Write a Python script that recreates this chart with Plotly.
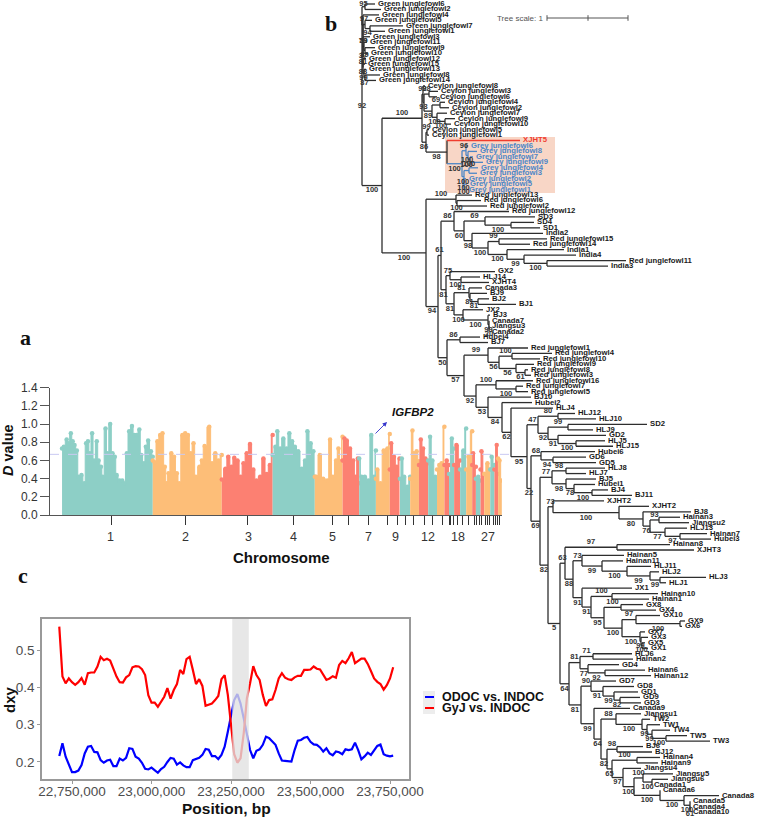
"""
Three-panel figure: D value Manhattan plot, dxy sliding windows, neighbour-joining tree.
"""

import plotly.graph_objects as go

TEAL = "#8DCFC6"
ORANGE = "#FDBE78"
RED = "#FC8072"
SANS = "Liberation Sans, Arial, sans-serif"
SERIF = "Liberation Serif, Times New Roman, serif"

# ---------------------------------------------------------------------------
# Panel a: envelope of the D values per chromosome (position in Mb, D value)
# ---------------------------------------------------------------------------

chr1_mb = [0, 4, 10, 14, 19, 23, 27, 32, 36, 42, 48, 52, 56, 60, 65, 69, 75, 79, 84, 88, 94, 98, 104, 109, 114,
           118, 124, 130, 134, 140, 145, 151, 156, 161, 167, 171, 177, 181, 186, 192, 196]
chr1_d = [.73, .75, .83, .79, .90, .81, .77, .71, .42, .44, .35, .79, .81, .68, .90, .60, .81, .60, .53, .42, .95,
          .68, 1.0, .68, .64, .44, .38, .38, .35, .68, .92, .98, .88, .88, .94, .66, .57, .75, .82, .70, .64]
chr2_mb = [196, 200, 206, 212, 217, 222, 226, 230, 236, 242, 248, 253, 260, 266, 272, 278, 284, 289, 297, 302,
           308, 318, 324, 331, 338, 345]
chr2_d = [.60, .58, .81, .88, .90, .53, .35, .46, .68, .64, .46, .35, .88, .90, .88, .68, .79, .42, .53, .60,
          .76, .97, .57, .68, .60, .66]
chr3_mb = [345, 353, 359, 366, 372, 379, 386, 392, 399, 406, 413, 420, 428, 435, 442, 449, 455]
chr3_d = [.39, .51, .64, .53, .63, .60, .42, .57, .68, .78, .50, .38, .42, .62, .45, .55, .88]
chr4_mb = [455, 461, 465, 471, 478, 485, 491, 497, 503, 510, 518, 525, 530, 537, 543, 546]
chr4_d = [.66, .75, .92, .73, .84, .73, .90, .81, .75, .70, .51, .60, .92, .79, .70, .42]
chr5_mb = [546, 549, 557, 564, 573, 579, 585, 592, 597, 602, 606]
chr5_d = [.42, .42, .66, .40, .38, .83, .42, .60, .73, .59, .86]
chr6_mb = [606, 610, 615, 622, 629, 634, 639, 642]
chr6_d = [.60, .84, .82, .73, .60, .42, .62, .35]
chr7_mb = [642, 647, 654, 662, 668, 674, 678]
chr7_d = [.62, .42, .42, .38, .88, .42, .71]
chr8_mb = [678, 681, 688, 695, 703, 708]
chr8_d = [.40, .50, .35, .71, .73, .89]
chr9_mb = [708, 711, 717, 723, 729]
chr9_d = [.50, .79, .64, .53, .62]
chr10_mb = [730, 734, 739, 746, 752]
chr10_d = [.40, .62, .42, .31, .42]
chr11_mb = [752, 757, 759, 766, 771]
chr11_d = [.40, .93, .68, .70, .59]
chr12_mb = [771, 775, 780, 785, 791]
chr12_d = [.55, .83, .73, .62, .57]
chr13_mb = [791, 795, 800, 806, 810]
chr13_d = [.60, .86, .60, .42, .40]
chr14_mb = [810, 815, 820, 826]
chr14_d = [.50, .55, .57, .97]
chr15_mb = [826, 831, 836]
chr15_d = [.55, .60, .55]
chr16_mb = [836, 842, 847]
chr16_d = [.45, .84, .73]
chr17_mb = [847, 852, 860]
chr17_d = [.55, .77, .60]
chr18_mb = [860, 867, 873]
chr18_d = [.50, .71, .95]
chr19_mb = [873, 878, 886]
chr19_d = [.50, .64, .92]
chr20_mb = [886, 888, 894]
chr20_d = [.55, .68, .53]
chr21_mb = [894, 899, 904]
chr21_d = [.40, .42, .38]
chr22_mb = [904, 906, 912]
chr22_d = [.50, .70, .45]
chr23_mb = [912, 919, 925]
chr23_d = [.45, .57, .50]
chr24_mb = [925, 928, 934]
chr24_d = [.50, .64, .55]
chr25_mb = [934, 939, 942]
chr25_d = [.50, .77, .45]
chr26_mb = [942, 945, 950]
chr26_d = [.62, .60, .38]

chrom_ticks = [106, 266, 400, 501, 585, 618, 663, 702, 724, 743, 760, 782, 801, 821, 836, 840, 845, 855, 866, 877,
               890, 896, 901, 907, 914, 918, 924, 931, 937, 940, 944]
chrom_labels = ["1", "2", "3", "4", "5", "7", "9", "12", "18", "27"]
chrom_label_mb = [104, 266, 402, 501, 585, 661, 721, 791, 855, 920]
d_threshold = 0.667

# ---------------------------------------------------------------------------
# Panel c: dxy in 10 kb steps
# ---------------------------------------------------------------------------

position_bp = [22710000, 22720000, 22730000, 22740000, 22750000, 22760000, 22770000, 22780000, 22790000, 22800000,
               22810000, 22820000, 22830000, 22840000, 22850000, 22860000, 22870000, 22880000, 22890000, 22900000,
               22910000, 22920000, 22930000, 22940000, 22950000, 22960000, 22970000, 22980000, 22990000, 23000000,
               23010000, 23020000, 23030000, 23040000, 23050000, 23060000, 23070000, 23080000, 23090000, 23100000,
               23110000, 23120000, 23130000, 23140000, 23150000, 23160000, 23170000, 23180000, 23190000, 23200000,
               23210000, 23220000, 23230000, 23240000, 23250000, 23260000, 23270000, 23280000, 23290000, 23300000,
               23310000, 23320000, 23330000, 23340000, 23350000, 23360000, 23370000, 23380000, 23390000, 23400000,
               23410000, 23420000, 23430000, 23440000, 23450000, 23460000, 23470000, 23480000, 23490000, 23500000,
               23510000, 23520000, 23530000, 23540000, 23550000, 23560000, 23570000, 23580000, 23590000, 23600000,
               23610000, 23620000, 23630000, 23640000, 23650000, 23660000, 23670000, 23680000, 23690000, 23700000,
               23710000, 23720000, 23730000, 23740000, 23750000, 23760000]
dxy_gyj = [.563, .429, .411, .424, .414, .407, .414, .425, .407, .438, .440, .440, .456, .482, .473, .477, .472,
           .451, .429, .414, .413, .427, .433, .454, .457, .456, .449, .433, .379, .359, .359, .348, .362, .375,
           .398, .370, .393, .409, .447, .436, .476, .482, .447, .409, .422, .404, .351, .355, .357, .366, .377,
           .422, .433, .380, .299, .221, .198, .210, .277, .371, .411, .457, .433, .420, .380, .350, .366, .368,
           .393, .424, .438, .426, .422, .420, .427, .431, .431, .447, .447, .448, .456, .450, .448, .433, .420,
           .424, .430, .426, .460, .471, .465, .478, .495, .465, .472, .477, .477, .463, .444, .424, .415, .409,
           .394, .406, .424, .454]
dxy_odoc = [.216, .250, .214, .192, .173, .173, .177, .192, .223, .241, .243, .227, .226, .205, .198, .204, .206,
            .189, .189, .209, .204, .211, .237, .235, .214, .209, .198, .182, .180, .185, .177, .171, .181, .187,
            .200, .211, .209, .193, .199, .191, .186, .186, .205, .207, .211, .219, .235, .233, .216, .216, .208,
            .219, .241, .281, .326, .366, .382, .357, .317, .272, .232, .210, .230, .234, .246, .268, .264, .255,
            .246, .223, .204, .203, .201, .201, .232, .257, .259, .265, .267, .254, .247, .246, .239, .228, .237,
            .223, .218, .228, .226, .221, .234, .232, .234, .252, .232, .207, .215, .225, .219, .232, .243, .247,
            .221, .217, .215, .217]
igfbp2_window_bp = [23254000, 23306000]

# ---------------------------------------------------------------------------
# Panel b: tree in Newick form, "label:tip" for leaves, ")node/support" for clades.
# The numbers after ":" and ")" are tree positions.
# ---------------------------------------------------------------------------

green_clade = ("((Green junglefowl6:375,Green junglefowl2:381)365/95,(Green junglefowl4:379,((Green junglefowl5:372,"
               "(Green junglefowl7:403,Green junglefowl1:385)370/94)365/97,(Green junglefowl3:370,"
               "((Green junglefowl11:367,(Green junglefowl9:375,Green junglefowl10:368)365/89)364/59,"
               "((Green junglefowl12:366,Green junglefowl15:365)363/37,(Green junglefowl13:366,"
               "(Green junglefowl8:380,Green junglefowl14:376)365/87)364/99)363/88)363/81)363/)363/79)363/)362/")
ceylon_clade = ("(Ceylon junglefowl8:425,((Ceylon junglefowl3:438,Ceylon junglefowl6:437)429/98,"
                "((Ceylon junglefowl4:445,Ceylon junglefowl2:449)440/69,(Ceylon junglefowl7:447,"
                "(Ceylon junglefowl9:455,Ceylon junglefowl10:451)445/100)437/100)432/89)424/93)423/92")
grey_clade = ("((Grey junglefowl6:468,(Grey junglefowl8:477,(Grey junglefowl7:473,Grey junglefowl9:483)470/100)468/100)"
              "466/96,((Grey junglefowl4:478,Grey junglefowl3:477)469/100,(Grey junglefowl2:466,"
              "(Grey junglefowl5:467,Grey junglefowl1:466)464/100)463/100)464/100)462/100")
wild_clade = (f"({ceylon_clade},((Ceylon junglefowl5:429,Ceylon junglefowl1:429)427/99,"
              f"(XJHT5:520,{grey_clade})447/98)426/86)422/100")
red_a = "(Red junglefowl13:472,(Red junglefowl6:481,Red junglefowl2:487)457/100)456/100"
india = ("(Red junglefowl12:509,((SD3:535,(SD4:534,SD1:540)511/100)485/69,(India2:543,((Red junglefowl15:547,"
         "Red junglefowl14:530)499/99,(India1:564,(India4:576,(Red junglefowl11:626,India3:608)547/100)524/99)507/100)"
         "488/100)472/98)464/60)454/86")
mixed = ("((GX2:495,(HLJ14:480,XJHT4:489)461/100)450/75,((Canada3:482,(BJ9:487,(BJ2:489,BJ1:516)478/81)470/81)469/81,"
         "(JX2:483,(BJ3:490,(Canada7:489,(Jiangsu3:489,Canada2:489)489/20)489/99)488/100)463/100)454/81)446/81")
red_b = ("(Red junglefowl1:528,((Red junglefowl4:552,Red junglefowl10:540)512/100,(Red junglefowl9:534,"
         "(Red junglefowl8:528,Red junglefowl3:531)525/61)516/56)499/56)488/99")
red_c = "(Red junglefowl16:533,(Red junglefowl7:523,Red junglefowl5:528)516/100)496/100"
hlj_a = ("((HLJ12:575,HLJ10:596)558/80,((SD2:647,HLJ9:593)568/99,(GD2:606,(HLJ5:605,HLJ15:613)576/100)558/91)548/92)"
         "538/47")
xjht = ("(XJHT2:604,(XJHT2:649,(BJ8:691,((Hainan3:680,Jiangsu2:689)659/93,(HLJ13:687,(Hainan7:707,Hubei3:711)680/97)"
        "665/77)650/76)643/80)619/100)553/73")
hainan_a = "(Hainan5:624,(Hainan11:623,(HLJ11:651,(HLJ2:659,(HLJ3:706,HLJ1:666)660/99)650/99)627/100)602/99)582/73"
gx = ("(JX1:632,((Hainan10:658,Hainan1:649)612/100,((GX8:643,GX4:656)621/100,((GX10:660,(GX9:685,GX6:682)680/100)636/97,"
      "(GX7:645,(GX3:648,(GX5:645,GX1:648)642/100)641/99)640/100)622/100)604/95)591/91)582/91")
south = ("(((HLJ6:632,Hainan2:633)593/71,(GD4:619,(Hainan6:645,Hainan12:651)605/92)588/77)580/81,"
         "((GD7:616,(GD8:634,(GD1:638,(GD9:640,GD3:641)620/82)614/99)603/91)591/90,(Canada9:630,"
         "((Jiangsu1:641,(TW2:650,(TW1:660,(TW4:670,(TW5:687,TW3:710)666/100)652/99)647/99)642/100)616/88,"
         "((BJ6:643,BJ12:652)617/98,((Hainan4:660,Hainan9:658)637/100,(Jiangsu4:641,((Jiangsu5:673,"
         "(Jiangsu6:668,Canada1:651)652/100)643/100,(Canada6:660,(Canada8:719,(Canada5:690,(Canada4:690,Canada10:690)"
         "690/61)690/100)684/100)660/100)634/100)623/97)612/65)607/82)601/64)594/99)581/81)569/64")
n560 = f"(((Hainan8:670,XJHT3:694)617/97,({hainan_a},{gx})573/88)565/63,{south})560/5"
n548 = f"({xjht},{n560})548/82"
hlj_b = (f"((Hubei6:595,(GD6:586,GD5:596)553/94)541/68,(((HLJ8:605,HLJ7:586)566/98,(BJ5:596,(Hubei1:595,"
         f"(BJ4:608,BJ11:632)592/100)574/78)566/98)552/77,{n548})540/69)531/22")
n511 = f"(HLJ4:553,({hlj_a},{hlj_b})527/95)511/62"
n476 = f"({red_c},(BJ10:531,(Hubei2:532,{n511})502/84)488/53)476/92"
n438 = (f"(({india},{mixed})441/61,((Hubei4:480,BJ7:488)460/86,({red_b},{n476})464/57)447/50)438/94")
tree_newick = f"({green_clade},({wild_clade},({red_a},{n438})426/100)382/100)362/92"

tree_scale_x = [547, 588, 628]
highlight_x = [445, 555]
highlight_y = [137, 193]
LEAF_TOP = 4
LEAF_STEP = 5.46


def parse_newick(text):
    """Parse the small Newick dialect above into nested dicts."""
    pos = 0

    def read_token():
        nonlocal pos
        start = pos
        while pos < len(text) and text[pos] not in ",()":
            pos += 1
        return text[start:pos]

    def read_node():
        nonlocal pos
        if text[pos] == "(":
            pos += 1
            kids = [read_node()]
            while text[pos] == ",":
                pos += 1
                kids.append(read_node())
            pos += 1
            x, support = read_token().split("/")
            return dict(x=float(x), support=support, kids=kids)
        name, x = read_token().rsplit(":", 1)
        return dict(x=float(x), name=name, kids=[])

    return read_node()


def layout_tree(node, leaves):
    """Leaves go down in reading order, a clade sits midway between its outer children."""
    if not node["kids"]:
        node["y"] = LEAF_TOP + len(leaves) * LEAF_STEP
        node["group"] = "grey" if node["name"].startswith("Grey") else "red" if node["name"] == "XJHT5" else "plain"
        leaves.append(node)
        return
    for kid in node["kids"]:
        layout_tree(kid, leaves)
    node["y"] = (node["kids"][0]["y"] + node["kids"][-1]["y"]) / 2
    groups = {kid["group"] for kid in node["kids"]}
    node["group"] = groups.pop() if len(groups) == 1 else "plain"


def collect_edges(node, edges, supports):
    for i, kid in enumerate(node["kids"]):
        line_x, line_y = edges[kid["group"]]
        line_x += [node["x"], kid["x"], None]
        line_y += [kid["y"], kid["y"], None]
        if kid.get("support"):
            supports["x"].append((node["x"] + kid["x"]) / 2)
            # the topmost label has to stay on the page
            supports["y"].append(max(kid["y"] + (-5 if i == 0 else 5), 4))
            supports["text"].append(kid["support"])
        collect_edges(kid, edges, supports)
    if node["kids"]:
        line_x, line_y = edges[node["group"]]
        line_x += [node["x"], node["x"], None]
        line_y += [node["kids"][0]["y"], node["kids"][-1]["y"], None]


root = parse_newick(tree_newick)
leaves = []
layout_tree(root, leaves)
edges = {"plain": ([], []), "grey": ([], []), "red": ([], [])}
supports = {"x": [root["x"]], "y": [root["y"] + 5], "text": [root["support"]]}
collect_edges(root, edges, supports)

EDGE_COLORS = {"plain": "#2e2e2e", "grey": "#4C86C6", "red": "#F03C2E"}

fig = go.Figure()

# --- Tree ---
for group, (line_x, line_y) in edges.items():
    fig.add_trace(go.Scatter(x=line_x, y=line_y, mode="lines", line=dict(color=EDGE_COLORS[group], width=1.3)))
for group, color in EDGE_COLORS.items():
    picked = [leaf for leaf in leaves if leaf["group"] == group]
    fig.add_trace(go.Scatter(
        x=[leaf["x"] + 3 for leaf in picked],
        y=[leaf["y"] for leaf in picked],
        text=[leaf["name"] for leaf in picked],
        mode="text",
        textposition="middle right",
        textfont=dict(family=SANS, size=7.7, color="#1a1a1a" if group == "plain" else color, weight="bold"),
    ))
fig.add_trace(go.Scatter(
    x=supports["x"], y=supports["y"], text=supports["text"], mode="text",
    textfont=dict(family=SANS, size=7.5, color="#333333", weight="bold"),
))
fig.add_trace(go.Scatter(
    x=tree_scale_x, y=[18] * 3, mode="lines+markers",
    line=dict(color="#555555", width=1),
    marker=dict(symbol="line-ns", size=4, line=dict(color="#555555", width=1)),
))
fig.add_shape(type="rect", xref="x", yref="y", x0=highlight_x[0], x1=highlight_x[1], y0=highlight_y[0],
              y1=highlight_y[1], fillcolor="#F8D6C6", line_width=0, layer="below")

# --- Manhattan ---
manhattan = [
    (chr1_mb, chr1_d, TEAL), (chr2_mb, chr2_d, ORANGE), (chr3_mb, chr3_d, RED), (chr4_mb, chr4_d, TEAL),
    (chr5_mb, chr5_d, ORANGE), (chr6_mb, chr6_d, RED), (chr7_mb, chr7_d, TEAL), (chr8_mb, chr8_d, ORANGE),
    (chr9_mb, chr9_d, RED), (chr10_mb, chr10_d, TEAL), (chr11_mb, chr11_d, ORANGE), (chr12_mb, chr12_d, RED),
    (chr13_mb, chr13_d, TEAL), (chr14_mb, chr14_d, ORANGE), (chr15_mb, chr15_d, RED), (chr16_mb, chr16_d, TEAL),
    (chr17_mb, chr17_d, RED), (chr18_mb, chr18_d, TEAL), (chr19_mb, chr19_d, ORANGE), (chr20_mb, chr20_d, RED),
    (chr21_mb, chr21_d, TEAL), (chr22_mb, chr22_d, RED), (chr23_mb, chr23_d, ORANGE), (chr24_mb, chr24_d, TEAL),
    (chr25_mb, chr25_d, RED), (chr26_mb, chr26_d, ORANGE),
]
for mb, d, color in manhattan:
    fig.add_trace(go.Scatter(
        x=mb, y=d, xaxis="x2", yaxis="y2", mode="lines+markers", fill="tozeroy", fillcolor=color,
        line=dict(color=color, width=1, shape="hvh"), marker=dict(color=color, size=4.5),
    ))
fig.add_shape(type="line", xref="paper", yref="y2", x0=50 / 777, x1=513 / 777, y0=d_threshold, y1=d_threshold,
              line=dict(color="#C9C9F2", width=1, dash="dash"), layer="above")
fig.add_annotation(xref="x", yref="y", axref="x", ayref="y", x=387, y=422, ax=374, ay=435, text="",
                   showarrow=True, arrowhead=2, arrowsize=1, arrowwidth=0.9, arrowcolor="#3333CC")
fig.add_annotation(xref="x", yref="y", x=413, y=412, text="<b><i>IGFBP2</i></b>", showarrow=False,
                   font=dict(family=SANS, size=11.5, color="#111111"))
for label, mb in zip(chrom_labels, chrom_label_mb):
    fig.add_annotation(xref="x2", yref="y", x=mb, y=537, text=label, showarrow=False,
                       font=dict(family=SANS, size=12.5, color="#333333"))
fig.add_annotation(xref="x", yref="y", x=281, y=557, text="<b>Chromosome</b>", showarrow=False,
                   font=dict(family=SANS, size=15, color="#111111"))
fig.add_annotation(xref="x", yref="y", x=8, y=450, text="<b><i>D</i> value</b>", textangle=-90, showarrow=False,
                   font=dict(family=SANS, size=14.5, color="#111111"))

# --- dxy ---
fig.add_trace(go.Scatter(x=position_bp, y=dxy_odoc, xaxis="x3", yaxis="y3", mode="lines",
                         line=dict(color="#0000FF", width=2.2), name="ODOC vs. INDOC"))
fig.add_trace(go.Scatter(x=position_bp, y=dxy_gyj, xaxis="x3", yaxis="y3", mode="lines",
                         line=dict(color="#FF0000", width=2.2), name="GyJ vs. INDOC"))
fig.add_shape(type="rect", xref="x3", yref="paper", x0=igfbp2_window_bp[0], x1=igfbp2_window_bp[1],
              y0=(817 - 779) / 817, y1=(817 - 619) / 817, fillcolor="rgba(224,224,224,0.78)", line_width=0, layer="above")
fig.add_annotation(xref="x", yref="y", x=226, y=808, text="<b>Position, bp</b>", showarrow=False,
                   font=dict(family=SANS, size=15.5, color="#111111"))
fig.add_annotation(xref="x", yref="y", x=9, y=700, text="<b>dxy</b>", textangle=-90, showarrow=False,
                   font=dict(family=SANS, size=15, color="#111111"))

# legend keys and texts are placed by hand, plotly's own key is too wide here
fig.add_shape(type="rect", xref="x", yref="y", x0=423, x1=435, y0=691, y1=714, fillcolor="#EDEDED", line_width=0,
              layer="below")
for y, color, label in [(697, "#0000FF", "ODOC vs. INDOC"), (708, "#FF0000", "GyJ vs. INDOC")]:
    fig.add_shape(type="line", xref="x", yref="y", x0=425, x1=434, y0=y, y1=y, line=dict(color=color, width=2))
    fig.add_annotation(xref="x", yref="y", x=440, y=y, text=f"<b>{label}</b>", showarrow=False, xanchor="left",
                       font=dict(family=SANS, size=12.5, color="#111111"))

# --- Panel letters and tree scale text ---
for letter, x, y in [("a", 25, 337), ("b", 331, 23), ("c", 23, 575)]:
    fig.add_annotation(xref="x", yref="y", x=x, y=y, text=f"<b>{letter}</b>", showarrow=False,
                       font=dict(family=SERIF, size=22, color="#111111"))
fig.add_annotation(xref="x", yref="y", x=520, y=18, text="Tree scale: 1", showarrow=False,
                   font=dict(family=SANS, size=8, color="#555555"))

fig.update_layout(
    width=777,
    height=817,
    margin=dict(l=0, r=0, t=0, b=0, pad=0, autoexpand=False),
    autosize=False,
    showlegend=False,
    paper_bgcolor="white",
    plot_bgcolor="rgba(0,0,0,0)",
    hovermode=False,
    xaxis=dict(domain=[0, 1], range=[0, 777], visible=False),
    yaxis=dict(domain=[0, 1], range=[817, 0], visible=False),
    xaxis2=dict(
        domain=[50 / 777, 502 / 777], range=[-26, 950.4], anchor="y2", showgrid=False, zeroline=False,
        showline=True, linecolor="#555555", linewidth=1, tickmode="array", tickvals=chrom_ticks,
        showticklabels=False, ticks="outside", ticklen=9, tickcolor="#333333", tickwidth=1,
    ),
    yaxis2=dict(
        domain=[(817 - 515) / 817, (817 - 387.7) / 817], range=[0, 1.4], anchor="x2", showgrid=False,
        zeroline=False, showline=True, linecolor="#555555", linewidth=1, ticks="outside", ticklen=9,
        tickcolor="#555555", tickvals=[0, .2, .4, .6, .8, 1.0, 1.2, 1.4], tickformat=".1f",
        tickfont=dict(family=SANS, size=12, color="#333333"),
    ),
    xaxis3=dict(
        domain=[42 / 777, 409 / 777], range=[22655660, 23809748], anchor="y3", showgrid=False, zeroline=False,
        showline=True, mirror=True, linecolor="#999999", linewidth=1.5, ticks="outside", ticklen=3,
        tickcolor="#999999", tickvals=[22750000, 23000000, 23250000, 23500000, 23750000], tickformat=",",
        tickfont=dict(family=SANS, size=13.5, color="#4D4D4D"), ticklabelstandoff=-4,
    ),
    yaxis3=dict(
        domain=[(817 - 779) / 817, (817 - 619) / 817], range=[0.1544, 0.5834], anchor="x3", showgrid=False,
        zeroline=False, showline=True, mirror=True, linecolor="#999999", linewidth=1.5, ticks="outside", ticklen=3,
        tickcolor="#999999", tickvals=[.2, .3, .4, .5], tickformat=".1f",
        tickfont=dict(family=SANS, size=13.5, color="#4D4D4D"),
    ),
)

fig.write_html("out.html", config={"displayModeBar": False}, post_script="document.body.style.margin='0';")
